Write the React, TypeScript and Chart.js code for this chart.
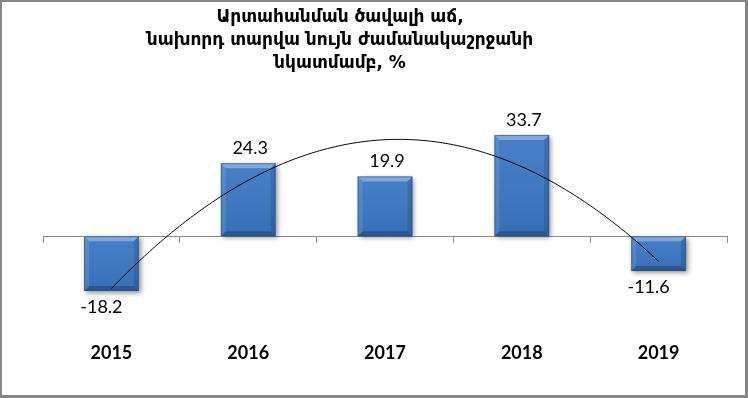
import React, { useEffect, useRef } from "react";
import { Chart, registerables } from "chart.js";

Chart.register(...registerables);

// ---- data ----
const TITLE_LINES = [
  "Արտահանման ծավալի աճ,",
  "նախորդ տարվա նույն ժամանակաշրջանի",
  "նկատմամբ, %",
];
const YEARS = ["2015", "2016", "2017", "2018", "2019"];
const GROWTH = [-18.2, 24.3, 19.9, 33.7, -11.6];
const Y_MIN = -30;
const Y_MAX = 40;

// ---- styles ----
const BAR_COLOR = "#3b78c4";
const AXIS_COLOR = "#8c8c8c";
const NUM_FONT = "Lato, 'DejaVu Sans', sans-serif";
const TITLE_FONT = "'DejaVu Sans', sans-serif";

// least-squares 2nd order polynomial (Excel-like trendline) from the data
function quadFit(ys: number[]) {
  let s0 = 0, s1 = 0, s2 = 0, s3 = 0, s4 = 0, t0 = 0, t1 = 0, t2 = 0;
  ys.forEach((y, i) => {
    const x = i;
    s0 += 1; s1 += x; s2 += x * x; s3 += x * x * x; s4 += x * x * x * x;
    t0 += y; t1 += x * y; t2 += x * x * y;
  });
  const M = [
    [s0, s1, s2, t0],
    [s1, s2, s3, t1],
    [s2, s3, s4, t2],
  ];
  for (let c = 0; c < 3; c++) {
    let p = c;
    for (let r = c + 1; r < 3; r++) if (Math.abs(M[r][c]) > Math.abs(M[p][c])) p = r;
    [M[c], M[p]] = [M[p], M[c]];
    for (let r = 0; r < 3; r++) {
      if (r === c) continue;
      const f = M[r][c] / M[c][c];
      for (let k = c; k < 4; k++) M[r][k] -= f * M[c][k];
    }
  }
  return [M[0][3] / M[0][0], M[1][3] / M[1][1], M[2][3] / M[2][2]];
}

const shadowPlugin = {
  id: "barShadow",
  beforeDatasetDraw(chart: any) {
    const ctx = chart.ctx;
    ctx.save();
    ctx.shadowColor = "rgba(0,0,0,0.45)";
    ctx.shadowBlur = 5;
    ctx.shadowOffsetX = 2;
    ctx.shadowOffsetY = 2;
  },
  afterDatasetDraw(chart: any, args: any) {
    const ctx = chart.ctx;
    ctx.restore();
    const meta = args.meta;
    meta.data.forEach((el: any) => {
      const { x, y, base, width } = el.getProps(["x", "y", "base", "width"], true);
      const top = Math.min(y, base);
      const bottom = Math.max(y, base);
      const left = x - width / 2;
      const right = x + width / 2;
      const b = 5;
      const poly = (pts: number[][], fill: string) => {
        ctx.beginPath();
        ctx.moveTo(pts[0][0], pts[0][1]);
        for (let i = 1; i < pts.length; i++) ctx.lineTo(pts[i][0], pts[i][1]);
        ctx.closePath();
        ctx.fillStyle = fill;
        ctx.fill();
      };
      ctx.save();
      const g = ctx.createLinearGradient(0, top, 0, bottom);
      g.addColorStop(0, "rgba(255,255,255,0.06)");
      g.addColorStop(1, "rgba(0,0,0,0.08)");
      ctx.fillStyle = g;
      ctx.fillRect(left, top, width, bottom - top);
      poly([[left, top], [right, top], [right - b, top + b], [left + b, top + b]], "rgba(255,255,255,0.32)");
      poly([[left, top], [left + b, top + b], [left + b, bottom - b], [left, bottom]], "rgba(255,255,255,0.10)");
      poly([[right, top], [right - b, top + b], [right - b, bottom - b], [right, bottom]], "rgba(0,0,0,0.12)");
      poly([[left, bottom], [left + b, bottom - b], [right - b, bottom - b], [right, bottom]], "rgba(0,0,0,0.22)");
      ctx.strokeStyle = "rgba(40,80,140,0.6)";
      ctx.lineWidth = 1;
      ctx.strokeRect(left + 0.5, top + 0.5, width - 1, bottom - top - 1);
      ctx.restore();
    });
  },
};

const labelPlugin = {
  id: "valueLabels",
  afterDatasetsDraw(chart: any) {
    const ctx = chart.ctx;
    const meta = chart.getDatasetMeta(0);
    ctx.save();
    ctx.font = `18px ${NUM_FONT}`;
    ctx.fillStyle = "#000";
    ctx.textAlign = "center";
    meta.data.forEach((el: any, i: number) => {
      const v = GROWTH[i];
      const { x, y } = el.getProps(["x", "y"], true);
      if (v >= 0) {
        ctx.textBaseline = "bottom";
        ctx.fillText(v.toFixed(1), x + 2, y - 6);
      } else {
        ctx.textBaseline = "top";
        ctx.fillText(v.toFixed(1), x - 10, y + 7);
      }
    });
    ctx.restore();
  },
};

const trendPlugin = {
  id: "trendline",
  afterDatasetsDraw(chart: any) {
    const ctx = chart.ctx;
    const xs = chart.scales.x;
    const ys = chart.scales.y;
    const [a, b, c] = quadFit(GROWTH);
    ctx.save();
    ctx.beginPath();
    const steps = 200;
    for (let s = 0; s <= steps; s++) {
      const t = (s / steps) * (GROWTH.length - 1);
      const v = a + b * t + c * t * t;
      const px = xs.getPixelForValue(t);
      const py = ys.getPixelForValue(v);
      if (s === 0) ctx.moveTo(px, py);
      else ctx.lineTo(px, py);
    }
    ctx.strokeStyle = "#000";
    ctx.lineWidth = 1;
    ctx.stroke();
    ctx.restore();
  },
};

const titlePlugin = {
  id: "armTitle",
  afterDraw(chart: any) {
    const ctx = chart.ctx;
    ctx.save();
    ctx.font = `bold 17px ${TITLE_FONT}`;
    ctx.fillStyle = "#000";
    ctx.textAlign = "center";
    ctx.textBaseline = "middle";
    TITLE_LINES.forEach((line, i) => {
      ctx.fillText(line, 338, 16 + i * 23);
    });
    ctx.restore();
  },
};

export default function App() {
  const ref = useRef<HTMLCanvasElement | null>(null);
  useEffect(() => {
    if (!ref.current) return;
    const chart = new Chart(ref.current, {
      type: "bar",
      data: {
        labels: YEARS,
        datasets: [
          {
            data: GROWTH,
            backgroundColor: BAR_COLOR,
            borderWidth: 0,
            categoryPercentage: 0.8,
            barPercentage: 0.5,
          },
        ],
      },
      options: {
        animation: false,
        responsive: true,
        maintainAspectRatio: false,
        layout: { padding: { top: 114, left: 41, right: 18, bottom: 15 } },
        plugins: {
          legend: { display: false },
          tooltip: { enabled: false },
          title: { display: false },
        },
        scales: {
          x: {
            type: "category",
            position: { y: 0 } as any,
            offset: true,
            ticks: { display: false },
            grid: {
              offset: true,
              drawOnChartArea: false,
              drawTicks: true,
              tickLength: 6,
              color: AXIS_COLOR,
            },
            border: { display: true, color: AXIS_COLOR, width: 1 },
          },
          x2: {
            type: "category",
            position: "bottom",
            offset: true,
            grid: { display: false, drawTicks: false },
            border: { display: false },
            ticks: {
              padding: 16,
              color: "#000",
              font: { family: NUM_FONT, size: 18, weight: "bold" },
            },
          },
          y: {
            display: false,
            min: Y_MIN,
            max: Y_MAX,
          },
        },
      },
      plugins: [shadowPlugin, labelPlugin, trendPlugin, titlePlugin],
    });
    return () => chart.destroy();
  }, []);

  return (
    <div
      style={{
        position: "fixed",
        left: 0,
        top: 0,
        width: 748,
        height: 398,
        boxSizing: "border-box",
        borderStyle: "solid",
        borderColor: "#878787",
        borderWidth: "2px 3px 3px 2px",
        background: "#fff",
      }}
    >
      <div style={{ position: "relative", width: 743, height: 393 }}>
        <canvas ref={ref} />
      </div>
    </div>
  );
}
